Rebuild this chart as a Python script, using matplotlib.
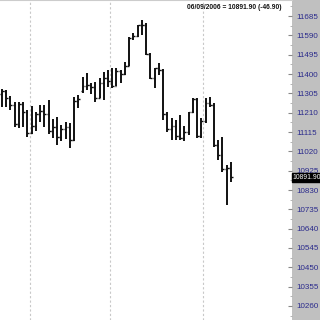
import matplotlib
matplotlib.use("Agg")
import matplotlib.pyplot as plt
from matplotlib.ticker import MultipleLocator, FixedLocator
import numpy as np

# DJIA daily bars, 03/23/2006 - 06/09/2006
dates = ["03/23", "03/24", "03/27", "03/28", "03/29", "03/30", "03/31",
         "04/03", "04/04", "04/05", "04/06", "04/07", "04/10", "04/11", "04/12", "04/13",
         "04/17", "04/18", "04/19", "04/20", "04/21", "04/24", "04/25", "04/26", "04/27", "04/28",
         "05/01", "05/02", "05/03", "05/04", "05/05", "05/08", "05/09", "05/10", "05/11", "05/12",
         "05/15", "05/16", "05/17", "05/18", "05/19", "05/22", "05/23", "05/24", "05/25", "05/26",
         "05/30", "05/31", "06/01", "06/02", "06/05", "06/06", "06/07", "06/08", "06/09"]
opens = [11300, 11317, 11280, 11250, 11154, 11251, 11215,
         11109, 11144, 11203, 11217, 11205, 11120, 11141, 11090, 11130,
         11138, 11074, 11269, 11315, 11343, 11347, 11336, 11283, 11354, 11382,
         11367, 11343, 11416, 11400, 11440, 11578, 11585, 11640, 11643, 11501,
         11381, 11429, 11420, 11205, 11128, 11144, 11095, 11088, 11117, 11211,
         11278, 11094, 11168, 11260, 11248, 11049, 11002, 10932, 10939]
highs = [11326, 11320, 11290, 11262, 11262, 11265, 11225,
         11245, 11215, 11250, 11250, 11270, 11180, 11190, 11150, 11165,
         11160, 11285, 11297, 11385, 11405, 11356, 11361, 11380, 11410, 11420,
         11430, 11430, 11420, 11459, 11582, 11601, 11641, 11665, 11650, 11503,
         11430, 11454, 11425, 11213, 11184, 11174, 11199, 11145, 11213, 11282,
         11282, 11184, 11282, 11287, 11257, 11076, 11090, 10953, 10967]
lows = [11238, 11240, 11222, 11140, 11135, 11140, 11090,
        11105, 11120, 11165, 11140, 11105, 11085, 11050, 11070, 11080,
        11036, 11070, 11233, 11305, 11321, 11300, 11262, 11280, 11272, 11336,
        11331, 11340, 11356, 11395, 11438, 11567, 11580, 11592, 11495, 11375,
        11331, 11395, 11174, 11115, 11076, 11076, 11076, 11070, 11100, 11208,
        11086, 11086, 11159, 11238, 11040, 10977, 10919, 10756, 10869]
closes = [11317, 11280, 11250, 11154, 11251, 11215, 11109,
          11144, 11203, 11217, 11205, 11120, 11141, 11090, 11130, 11138,
          11074, 11269, 11279, 11343, 11347, 11336, 11283, 11354, 11382, 11367,
          11343, 11416, 11400, 11438, 11578, 11585, 11640, 11643, 11501, 11381,
          11429, 11420, 11205, 11128, 11144, 11095, 11088, 11117, 11211, 11278,
          11094, 11168, 11260, 11248, 11049, 11002, 10932, 10939, 10892]

ytick_vals = [11685, 11590, 11495, 11400, 11305, 11210, 11115, 11020,
              10925, 10830, 10735, 10640, 10545, 10450, 10355, 10260]
last_label = "10891.90"
header = "06/09/2006 = 10891.90 (-46.90)"

fig = plt.figure(figsize=(3.2, 3.2), dpi=100)
fig.patch.set_facecolor("#c0c0c0")
ax = fig.add_axes([0, 0, 292 / 320, 1])
ax.set_facecolor("white")

x = np.arange(len(dates))
ax.vlines(x, lows, highs, color="#111111", linewidth=1.4)
tick = 0.45
ax.hlines(opens, x - tick, x, color="#111111", linewidth=1.0)
ax.hlines(closes, x, x + tick, color="#111111", linewidth=1.0)

# month separators
for i, d in enumerate(dates):
    if i > 0 and d[:2] != dates[i - 1][:2]:
        ax.axvline(i - 0.5, color="#c8c8c8", linestyle=(0, (2, 2)), linewidth=0.8, zorder=0)

ax.set_xlim(-0.47, 68.4)
ax.set_ylim(10191, 11764)

ax.yaxis.tick_right()
ax.yaxis.set_major_locator(FixedLocator(ytick_vals))
ax.yaxis.set_minor_locator(MultipleLocator(47.5))
ax.tick_params(axis="y", which="major", direction="in", length=3, width=0.8,
               color="#888888", labelsize=5.8, labelcolor="#2b2b8c", pad=3)
ax.tick_params(axis="y", which="minor", direction="in", length=1.5, width=0.6,
               color="#aaaaaa")
for lab in ax.get_yticklabels():
    lab.set_fontfamily("Liberation Sans")
ax.set_xticks([])

for side in ["left", "bottom", "right"]:
    ax.spines[side].set_visible(False)
ax.spines["top"].set_color("#cccccc")
ax.spines["top"].set_linewidth(0.8)

ax.text(0.965, 0.988, header, transform=ax.transAxes, ha="right", va="top",
        fontsize=4.8, fontweight="bold", family="Liberation Sans", color="#111111")

ax.annotate(last_label, xy=(1.0, closes[-1]), xycoords=("axes fraction", "data"),
            xytext=(0.3, 0), textcoords="offset points", ha="left", va="center",
            fontsize=4.9, family="Liberation Sans", color="white",
            bbox=dict(boxstyle="square,pad=0.12", fc="black", ec="black"),
            annotation_clip=False)

fig.savefig("out.png", dpi=100, facecolor=fig.get_facecolor())
